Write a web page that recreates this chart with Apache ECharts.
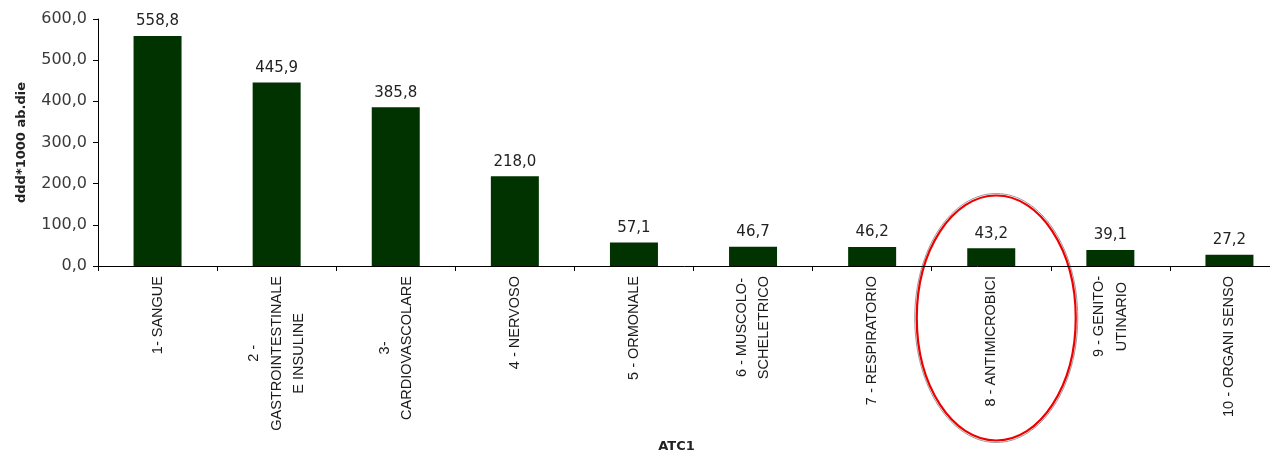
<!DOCTYPE html>
<html>
<head>
<meta charset="utf-8">
<script src="https://cdn.jsdelivr.net/npm/echarts@6/dist/echarts.min.js"></script>
<style>
  html, body { margin: 0; padding: 0; background: #ffffff; }
  #chart { width: 1270px; height: 455px; }
</style>
</head>
<body>
<div id="chart"></div>
<script>
// ATC1 therapeutic groups, consumption in DDD per 1000 inhabitants per day
const categories = [
  '1- SANGUE',
  '2 -\nGASTROINTESTINALE\nE INSULINE',
  '3-\nCARDIOVASCOLARE',
  '4 - NERVOSO',
  '5 - ORMONALE',
  '6 - MUSCOLO-\nSCHELETRICO',
  '7 - RESPIRATORIO',
  '8 - ANTIMICROBICI',
  '9 - GENITO-\nUTINARIO',
  '10 - ORGANI SENSO'
];
const dddValues = [558.8, 445.9, 385.8, 218.0, 57.1, 46.7, 46.2, 43.2, 39.1, 27.2];
const yTicks = { min: 0, max: 600, interval: 100 };
const highlightCategory = '8 - ANTIMICROBICI';

const fmt = v => v.toFixed(1).replace('.', ',');

const chart = echarts.init(document.getElementById('chart'), null, { renderer: 'canvas' });

const option = {
  animation: false,
  backgroundColor: '#ffffff',
  grid: {
    left: 98, top: 19, height: 247, width: 1191,
    containLabel: false,
    outerBoundsMode: 'none'
  },
  xAxis: {
    type: 'category',
    data: categories,
    name: 'ATC1',
    nameLocation: 'middle',
    nameGap: 174,
    nameTextStyle: {
      fontFamily: 'DejaVu Sans', fontWeight: 'bold', fontSize: 13, color: '#222',
      padding: [0, 34, 0, 0]
    },
    axisLine: { lineStyle: { color: '#000', width: 1 } },
    axisTick: { show: true, alignWithLabel: false, length: 5, lineStyle: { color: '#000' } },
    axisLabel: {
      interval: 0,
      rotate: 90,
      margin: 10,
      formatter: v => v.split('\n').map(l => '{c|' + l + '}').join('\n'),
      rich: {
        c: {
          align: 'center',
          fontFamily: 'Liberation Sans',
          fontSize: 14.5,
          lineHeight: 22.5,
          color: '#1a1a1a'
        }
      }
    }
  },
  yAxis: {
    type: 'value',
    min: yTicks.min,
    max: yTicks.max,
    interval: yTicks.interval,
    name: 'ddd*1000 ab.die',
    nameLocation: 'middle',
    nameGap: 70,
    nameTextStyle: { fontFamily: 'DejaVu Sans', fontWeight: 'bold', fontSize: 13, color: '#222' },
    axisLine: { show: true, lineStyle: { color: '#000', width: 1 } },
    axisTick: { show: true, length: 5, lineStyle: { color: '#000' } },
    splitLine: { show: false },
    axisLabel: {
      margin: 11,
      formatter: v => fmt(v),
      fontFamily: 'DejaVu Sans',
      fontSize: 16,
      color: '#3a3a3a'
    }
  },
  series: [{
    type: 'bar',
    data: dddValues,
    barWidth: 48,
    itemStyle: { color: '#013301' },
    label: {
      show: true,
      position: 'top',
      distance: 7,
      formatter: p => fmt(p.value),
      fontFamily: 'DejaVu Sans',
      fontSize: 15,
      color: '#222'
    }
  }]
};

chart.setOption(option);

// Red ellipse annotation around the antimicrobials category
const cx = chart.convertToPixel({ xAxisIndex: 0 }, highlightCategory) + 5;
const cy = chart.convertToPixel({ yAxisIndex: 0 }, 0) + 52;
chart.setOption({
  graphic: [
    {
      type: 'ellipse',
      shape: { cx: cx, cy: cy, rx: 81.5, ry: 124.5 },
      style: { fill: 'none', stroke: '#9a9a9a', lineWidth: 1 },
      silent: true
    },
    {
      type: 'ellipse',
      shape: { cx: cx, cy: cy, rx: 79.5, ry: 122.5 },
      style: { fill: 'none', stroke: '#ee0000', lineWidth: 2.2 },
      silent: true
    }
  ]
});
</script>
</body>
</html>
